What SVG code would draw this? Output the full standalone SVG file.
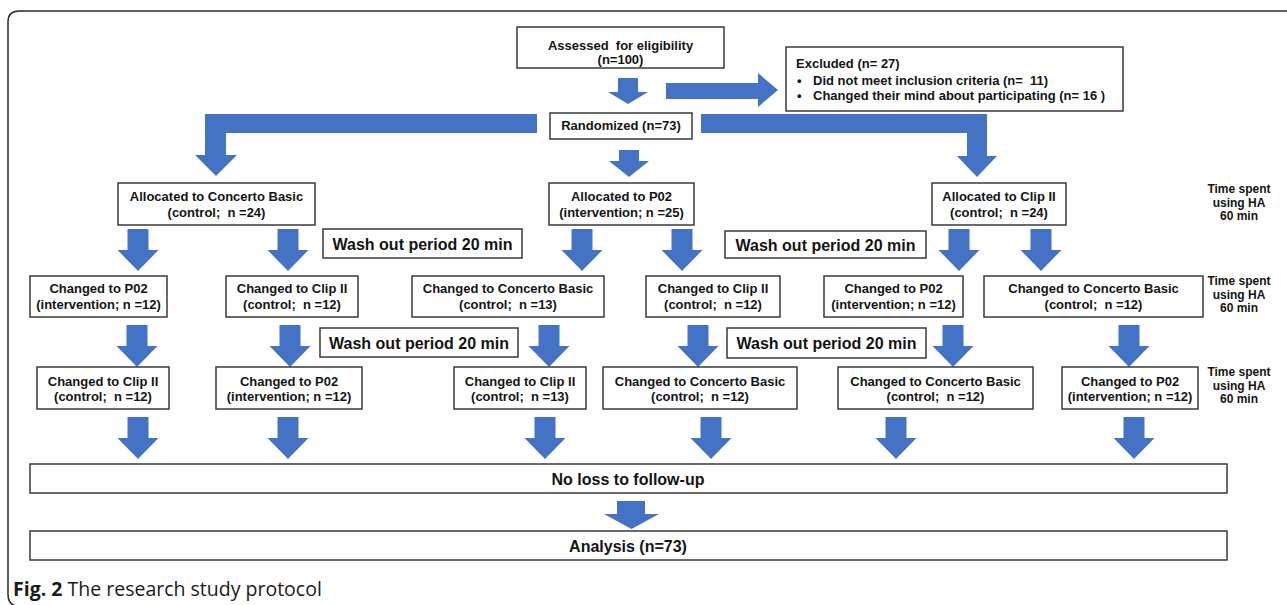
<svg xmlns="http://www.w3.org/2000/svg" width="1287" height="605" viewBox="0 0 1287 605">
<style>
.box{fill:#fff;stroke:#3a3a3a;stroke-width:1.5}
.t{font-family:"Liberation Sans",Arial,sans-serif;font-weight:bold;font-size:13px;fill:#141414;text-anchor:middle}
.w{font-size:16px}
.l{text-anchor:start}
.side{font-size:12px}
.arr{fill:#4472C4}
.cap{font-family:"Open Sans","Noto Sans",sans-serif;font-size:19.5px;fill:#1a1a1a}
.frame{fill:none;stroke:#2a2a2a;stroke-width:1.5}
</style>
<defs>
<path id="dn" class="arr" d="M-10.5,-42H10.5V-21H20.5L0,0L-20.5,-21H-10.5Z"/>
</defs>
<rect width="1287" height="605" fill="#fff"/>
<path class="frame" d="M1290,11H19Q8,11 8,22V594Q8,606.5 20,606.5H1290"/>

<g id="connectors">
<path class="arr" d="M618,78H638V92H648L628,104L608,92H618Z"/>
<path class="arr" d="M666,83H758V73L778,90L758,107V99H666Z"/>
<path class="arr" d="M537,114H205V155H195L216,176L237,155H226V133H537Z"/>
<path class="arr" d="M701,114H987V156H997L977,177L957,156H967V133H701Z"/>
<path class="arr" d="M619,150H639V161H649L629,177L609,161H619Z"/>
<use href="#dn" x="138" y="271"/>
<use href="#dn" x="288" y="271"/>
<use href="#dn" x="582" y="271"/>
<use href="#dn" x="682" y="271"/>
<use href="#dn" x="959" y="271"/>
<use href="#dn" x="1041" y="271"/>
<use href="#dn" x="137" y="367"/>
<use href="#dn" x="290" y="367"/>
<use href="#dn" x="549" y="367"/>
<use href="#dn" x="698" y="367"/>
<use href="#dn" x="953" y="367"/>
<use href="#dn" x="1129" y="367"/>
<use href="#dn" x="138" y="459"/>
<use href="#dn" x="288" y="459"/>
<use href="#dn" x="545" y="459"/>
<use href="#dn" x="711" y="459"/>
<use href="#dn" x="896" y="459"/>
<use href="#dn" x="1134" y="459"/>
<path class="arr" d="M617,501H645V514H659L631.5,529L604,514H617Z"/>
</g>

<g id="assessed">
<rect class="box" x="517" y="27" width="207" height="41"/>
<text class="t" x="620.5" y="50" xml:space="preserve">Assessed  for eligibility</text>
<text class="t" x="620.5" y="64">(n=100)</text>
</g>
<g id="excluded">
<rect class="box" x="786" y="47" width="337" height="64"/>
<text class="t l" x="796" y="68">Excluded (n= 27)</text>
<text class="t l" x="797" y="85">•</text>
<text class="t l" x="813" y="85" xml:space="preserve">Did not meet inclusion criteria (n=  11)</text>
<text class="t l" x="797" y="100">•</text>
<text class="t l" x="813" y="100">Changed their mind about participating (n= 16 )</text>
</g>
<g id="randomized">
<rect class="box" x="550" y="113" width="142" height="26"/>
<text class="t" x="621" y="130">Randomized (n=73)</text>
</g>

<g id="alloc-concerto">
<rect class="box" x="118" y="183" width="197" height="42"/>
<text class="t" x="216.5" y="201">Allocated to Concerto Basic</text>
<text class="t" x="216.5" y="217" xml:space="preserve">(control;  n =24)</text>
</g>
<g id="alloc-p02">
<rect class="box" x="549" y="183" width="145" height="42"/>
<text class="t" x="621.5" y="201">Allocated to P02</text>
<text class="t" x="621.5" y="217">(intervention; n =25)</text>
</g>
<g id="alloc-clip">
<rect class="box" x="932" y="183" width="134" height="42"/>
<text class="t" x="999" y="201">Allocated to Clip II</text>
<text class="t" x="999" y="217" xml:space="preserve">(control;  n =24)</text>
</g>

<g id="wash1">
<rect class="box" x="323" y="229" width="199" height="29"/>
<text class="t w" x="422.5" y="250">Wash out period 20 min</text>
</g>
<g id="wash2">
<rect class="box" x="725" y="231" width="201" height="27"/>
<text class="t w" x="825.5" y="251">Wash out period 20 min</text>
</g>

<g id="r2-p02">
<rect class="box" x="30" y="276" width="137" height="41"/>
<text class="t" x="98.5" y="293">Changed to P02</text>
<text class="t" x="98.5" y="309">(intervention; n =12)</text>
</g>
<g id="r2-clip">
<rect class="box" x="226" y="276" width="132" height="41"/>
<text class="t" x="292" y="293">Changed to Clip II</text>
<text class="t" x="292" y="309" xml:space="preserve">(control;  n =12)</text>
</g>
<g id="r2-concerto">
<rect class="box" x="412" y="276" width="192" height="41"/>
<text class="t" x="508" y="293">Changed to Concerto Basic</text>
<text class="t" x="508" y="309" xml:space="preserve">(control;  n =13)</text>
</g>
<g id="r2-clip-b">
<rect class="box" x="646" y="276" width="134" height="41"/>
<text class="t" x="713" y="293">Changed to Clip II</text>
<text class="t" x="713" y="309" xml:space="preserve">(control;  n =12)</text>
</g>
<g id="r2-p02-b">
<rect class="box" x="824" y="276" width="139" height="41"/>
<text class="t" x="893.5" y="293">Changed to P02</text>
<text class="t" x="893.5" y="309">(intervention; n =12)</text>
</g>
<g id="r2-concerto-b">
<rect class="box" x="984" y="276" width="219" height="41"/>
<text class="t" x="1093.5" y="293">Changed to Concerto Basic</text>
<text class="t" x="1093.5" y="309" xml:space="preserve">(control;  n =12)</text>
</g>

<g id="wash3">
<rect class="box" x="320" y="328" width="198" height="29"/>
<text class="t w" x="419" y="349">Wash out period 20 min</text>
</g>
<g id="wash4">
<rect class="box" x="727" y="328" width="199" height="30"/>
<text class="t w" x="826.5" y="349">Wash out period 20 min</text>
</g>

<g id="r3-clip">
<rect class="box" x="37" y="367" width="132" height="42"/>
<text class="t" x="103" y="386">Changed to Clip II</text>
<text class="t" x="103" y="401" xml:space="preserve">(control;  n =12)</text>
</g>
<g id="r3-p02">
<rect class="box" x="216" y="367" width="146" height="42"/>
<text class="t" x="289" y="386">Changed to P02</text>
<text class="t" x="289" y="401">(intervention; n =12)</text>
</g>
<g id="r3-clip-b">
<rect class="box" x="454" y="367" width="132" height="42"/>
<text class="t" x="520" y="386">Changed to Clip II</text>
<text class="t" x="520" y="401" xml:space="preserve">(control;  n =13)</text>
</g>
<g id="r3-concerto">
<rect class="box" x="603" y="367" width="194" height="42"/>
<text class="t" x="700" y="386">Changed to Concerto Basic</text>
<text class="t" x="700" y="401" xml:space="preserve">(control;  n =12)</text>
</g>
<g id="r3-concerto-b">
<rect class="box" x="838" y="367" width="195" height="42"/>
<text class="t" x="935.5" y="386">Changed to Concerto Basic</text>
<text class="t" x="935.5" y="401" xml:space="preserve">(control;  n =12)</text>
</g>
<g id="r3-p02-b">
<rect class="box" x="1062" y="367" width="136" height="42"/>
<text class="t" x="1130" y="386">Changed to P02</text>
<text class="t" x="1130" y="401">(intervention; n =12)</text>
</g>

<g id="time1">
<text class="t side" x="1239" y="193">Time spent</text>
<text class="t side" x="1239" y="207">using HA</text>
<text class="t side" x="1239" y="220">60 min</text>
</g>
<g id="time2">
<text class="t side" x="1239" y="285">Time spent</text>
<text class="t side" x="1239" y="299">using HA</text>
<text class="t side" x="1239" y="312">60 min</text>
</g>
<g id="time3">
<text class="t side" x="1239" y="376">Time spent</text>
<text class="t side" x="1239" y="390">using HA</text>
<text class="t side" x="1239" y="403">60 min</text>
</g>

<g id="noloss">
<rect class="box" x="30" y="464" width="1197" height="29"/>
<text class="t w" x="628" y="485">No loss to follow-up</text>
</g>
<g id="analysis">
<rect class="box" x="30" y="531" width="1197" height="29"/>
<text class="t w" x="628" y="552">Analysis (n=73)</text>
</g>

<text class="cap" x="13" y="596"><tspan font-weight="bold">Fig. 2</tspan> The research study protocol</text>
</svg>
